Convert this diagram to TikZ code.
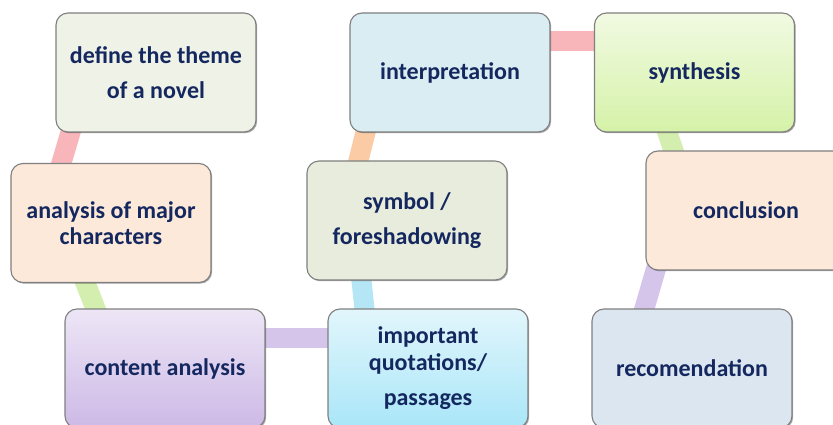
\documentclass[tikz,border=0pt]{standalone}
\usepackage{fontspec}
\setmainfont{Carlito}
\usetikzlibrary{shadows,backgrounds}
\definecolor{textblue}{HTML}{14285F}
\definecolor{boxline}{HTML}{7F7F7F}
\definecolor{pinklink}{HTML}{F8B6BA}
\definecolor{greenlink}{HTML}{D3EEAE}
\definecolor{purplelink}{HTML}{D5C5EA}
\definecolor{bluelink}{HTML}{B4E6F6}
\definecolor{orangelink}{HTML}{FBCBA5}
\definecolor{definefill}{HTML}{EFF2E7}
\definecolor{peachfill}{HTML}{FCE9DA}
\definecolor{contenttop}{HTML}{EDE6F6}
\definecolor{contentbot}{HTML}{CDB9E6}
\definecolor{importtop}{HTML}{E2F6FC}
\definecolor{importbot}{HTML}{A9E6F8}
\definecolor{symbolfill}{HTML}{E8ECDC}
\definecolor{interpfill}{HTML}{DAEDF3}
\definecolor{synthtop}{HTML}{F1FAE2}
\definecolor{synthbot}{HTML}{D5F2A8}
\definecolor{recomfill}{HTML}{DCE6F1}
\begin{document}
\begin{tikzpicture}[x=1pt,y=-1pt,
	box/.style={draw=boxline, line width=1.1pt, rounded corners=12pt,
		minimum width=200pt, minimum height=119pt, align=center,
		text=textblue, font=\fontsize{24}{26.5}\selectfont\bfseries,
		drop shadow={shadow xshift=1.2pt, shadow yshift=-1.2pt, fill=black, opacity=0.35}},
	link/.style={line width=20pt, shorten <=-8pt, shorten >=-8pt}]
		\useasboundingbox (0,0) rectangle (833,425);
		
		% Boksene
		\node[box, fill=definefill] (define) at (156,72.5) {define the theme\\[9pt]of a novel};
		\node[box, fill=peachfill] (analysis) at (111,223) {analysis of major\\characters};
		\node[box, top color=contenttop, bottom color=contentbot] (content) at (165,368.5) {content analysis};
		\node[box, top color=importtop, bottom color=importbot] (important) at (428,368.5) {important\\quotations/\\[9pt]passages};
		\node[box, fill=symbolfill] (symbol) at (407,220.5) {symbol /\\[9pt]foreshadowing};
		\node[box, fill=interpfill] (interp) at (450,72.5) {interpretation};
		\node[box, top color=synthtop, bottom color=synthbot] (synth) at (694.5,72.5) {synthesis};
		\node[box, fill=peachfill] (concl) at (746,210.5) {conclusion};
		\node[box, fill=recomfill] (recom) at (692,368.5) {recomendation};
		
		% Forbindelser
		\begin{scope}[on background layer]
		\draw[link, pinklink] ([xshift=15pt]define.south west) -- ([xshift=51pt]analysis.north west);
		\draw[link, greenlink] ([xshift=75pt]analysis.south west) -- ([xshift=31pt]content.north west);
		\draw[link, purplelink] ([yshift=-29.5pt]content.north east) -- ([yshift=-29.5pt]important.north west);
		\draw[link, bluelink] ([xshift=37pt]important.north west) -- ([xshift=55pt]symbol.south west);
		\draw[link, orangelink] ([xshift=52pt]symbol.north west) -- ([xshift=16pt]interp.south west);
		\draw[link, pinklink] ([yshift=-29pt]interp.north east) -- ([yshift=-29pt]synth.north west);
		\draw[link, greenlink] ([xshift=73.5pt]synth.south west) -- ([xshift=28pt]concl.north west);
		\draw[link, purplelink] ([xshift=10pt]concl.south west) -- ([xshift=53pt]recom.north west);
		\end{scope}
	\end{tikzpicture}
\end{document}
